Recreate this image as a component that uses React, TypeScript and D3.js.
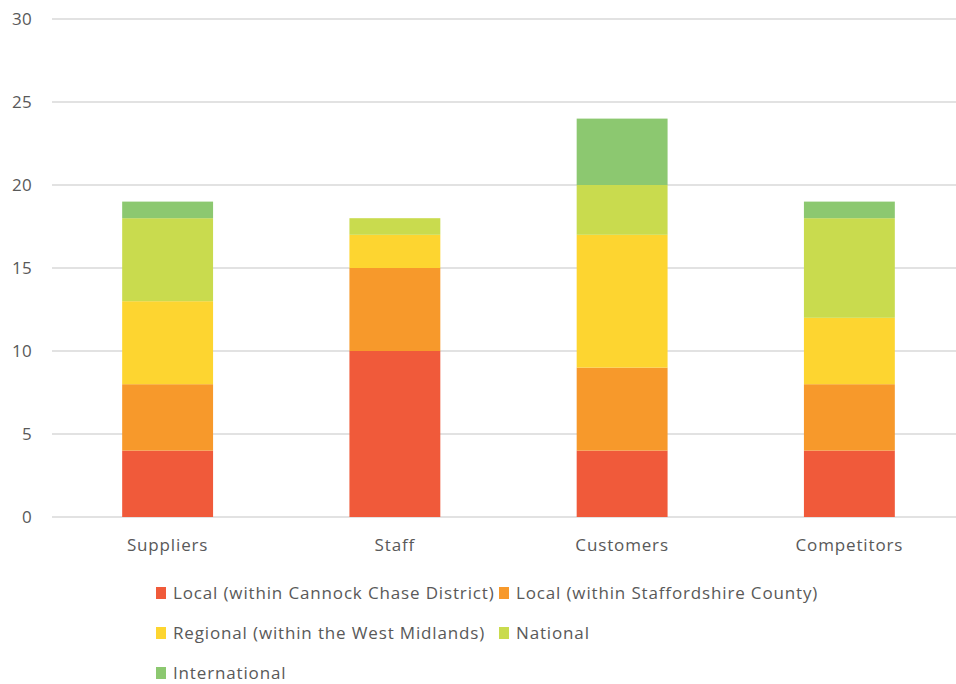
import React from "react";
import * as d3 from "d3";

const categories = ["Suppliers", "Staff", "Customers", "Competitors"];
const seriesNames = [
  "Local (within Cannock Chase District)",
  "Local (within Staffordshire County)",
  "Regional (within the West Midlands)",
  "National",
  "International",
];
const localDistrict = [4, 10, 4, 4];
const localCounty = [4, 5, 5, 4];
const regional = [5, 2, 8, 4];
const national = [5, 1, 3, 6];
const international = [1, 0, 4, 1];
const colors = ["#F05A3A", "#F7992B", "#FDD530", "#C9DB4E", "#8CC870"];
const yTicks = [0, 5, 10, 15, 20, 25, 30];

const seriesValues = [localDistrict, localCounty, regional, national, international];

export default function App() {
  const W = 956, H = 684;
  const x = d3.scaleBand<string>().domain(categories).range([54, 963]).paddingInner(0.6).paddingOuter(0.3);
  const y = d3.scaleLinear().domain([0, 30]).range([517, 19]);
  const rows = categories.map((c, i) => {
    const r: any = { cat: c };
    seriesNames.forEach((s, k) => (r[s] = seriesValues[k][i]));
    return r;
  });
  const stacked = d3.stack<any>().keys(seriesNames)(rows);
  const font = "'Open Sans', 'Noto Sans', sans-serif";
  const ls = 0.85;
  const legendItems = [
    { k: 0, x: 156, y: 593 },
    { k: 1, x: 499, y: 593 },
    { k: 2, x: 156, y: 633 },
    { k: 3, x: 499, y: 633 },
    { k: 4, x: 156, y: 673 },
  ];
  return (
    <svg width={W} height={H} style={{ position: "absolute", left: 0, top: 0, background: "#fff" }}>
      {yTicks.map((t) => (
        <g key={t}>
          <line x1={52} x2={956} y1={y(t)} y2={y(t)} stroke="#D9D9D9" strokeWidth={1.5} />
          <text x={32} y={y(t)} dy="0.35em" textAnchor="end" fontFamily={font} fontSize={17} letterSpacing={0.3} fill="#595959">
            {t}
          </text>
        </g>
      ))}
      {stacked.map((layer, k) =>
        layer.map((d, i) =>
          d[1] - d[0] > 0 ? (
            <rect
              key={k + "-" + i}
              x={x(categories[i])!}
              width={x.bandwidth()}
              y={y(d[1])}
              height={y(d[0]) - y(d[1])}
              fill={colors[k]}
            />
          ) : null
        )
      )}
      {categories.map((c) => (
        <text key={c} x={x(c)! + x.bandwidth() / 2} y={545} dy="0.35em" textAnchor="middle" fontFamily={font} fontSize={17} letterSpacing={ls} fill="#595959">
          {c}
        </text>
      ))}
      {legendItems.map((it) => (
        <g key={it.k}>
          <rect x={it.x} y={it.y - 6} width={10} height={12} fill={colors[it.k]} />
          <text x={it.x + 17} y={it.y} dy="0.35em" fontFamily={font} fontSize={17} letterSpacing={ls} fill="#595959">
            {seriesNames[it.k]}
          </text>
        </g>
      ))}
    </svg>
  );
}
